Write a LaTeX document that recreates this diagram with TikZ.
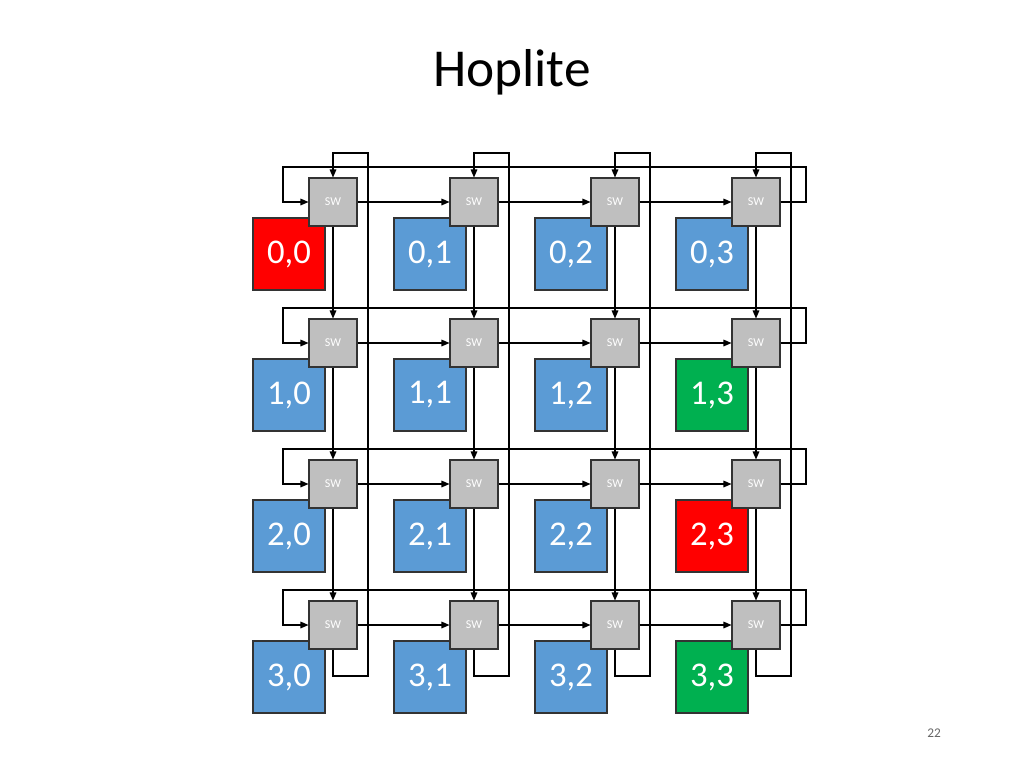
\documentclass[tikz,border=0pt]{standalone}
\usepackage{fontspec}
\setmainfont{Carlito}
\usetikzlibrary{arrows.meta}
\definecolor{peblue}{HTML}{5B9BD5}
\definecolor{pered}{HTML}{FF0000}
\definecolor{pegreen}{HTML}{00B050}
\definecolor{swgray}{HTML}{BFBFBF}
\begin{document}
\begin{tikzpicture}[x=0.75pt,y=-0.75pt,
  swbox/.style={draw=black!80,fill=swgray,minimum size=36pt,inner sep=0,text=white,font=\fontsize{9}{10}\selectfont,line width=0.8pt},
  pebox/.style={draw=black!80,minimum size=54pt,inner sep=0,text=white,font=\fontsize{26}{28}\selectfont,line width=0.8pt},
  wire/.style={line width=0.8pt},
  arr/.style={wire,-{Triangle[length=6pt,width=5pt]}}]
\useasboundingbox (0,0) rectangle (1024,768);
\node (title) at (512,72) {\fontsize{40}{44}\selectfont Hoplite};
\node[text=black!60,font=\fontsize{10}{12}\selectfont] (pg) at (934,733) {22};
\foreach \r in {0,1,2,3}{
  \foreach \c in {0,1,2,3}{
    \pgfmathsetmacro{\cx}{333+141*\c}
    \pgfmathsetmacro{\cy}{202+141*\r}
    \def\col{peblue}
    \ifnum\r\c=0 \def\col{pered}\fi
    \ifnum\r\c=13 \def\col{pegreen}\fi
    \ifnum\r\c=23 \def\col{pered}\fi
    \ifnum\r\c=33 \def\col{pegreen}\fi
    \node[pebox,fill=\col] (pe-\r-\c) at (\cx-44,\cy+52) {\r,\c};
    \node[swbox] (sw-\r-\c) at (\cx,\cy) {SW};
  }
}
% horizontal links
\foreach \r in {0,1,2,3}{
  \foreach \c/\n in {0/1,1/2,2/3}{
    \draw[arr] (sw-\r-\c.east) -- (sw-\r-\n.west);
  }
  \pgfmathsetmacro{\wy}{167+141*\r}
  \coordinate (hl-\r) at (283,\wy);
  \coordinate (hr-\r) at (806,\wy);
  \draw[arr] (sw-\r-3.east) -| (hr-\r) -- (hl-\r) |- (sw-\r-0.west);
}
% vertical links
\foreach \c in {0,1,2,3}{
  \foreach \r/\n in {0/1,1/2,2/3}{
    \draw[arr] (sw-\r-\c.south) -- (sw-\n-\c.north);
  }
  \pgfmathsetmacro{\wx}{368+141*\c}
  \coordinate (vt-\c) at (\wx,153);
  \coordinate (vb-\c) at (\wx,676);
  \draw[arr] (sw-3-\c.south) |- (vb-\c) -- (vt-\c) -| (sw-0-\c.north);
}
\end{tikzpicture}
\end{document}
